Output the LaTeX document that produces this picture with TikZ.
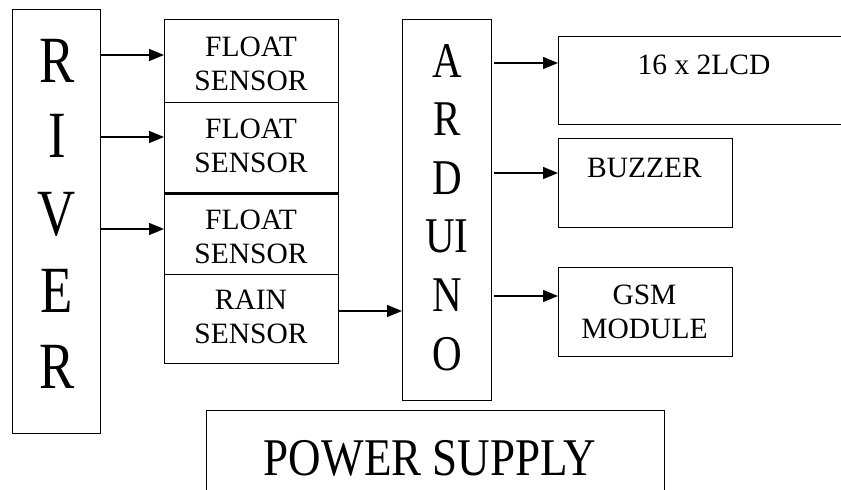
\documentclass[tikz,border=0pt]{standalone}
\usepackage{fontspec}
\setmainfont{Liberation Serif}
\usepackage{graphicx}
\usetikzlibrary{arrows.meta}
\begin{document}
\begin{tikzpicture}[x=1pt,y=-1pt,
  box/.style={draw, line width=1.4pt, inner sep=0pt, anchor=north west},
  small/.style={inner sep=0pt, align=center, font=\fontsize{29.5}{34}\selectfont},
  smallb/.style={inner sep=0pt, anchor=base, font=\fontsize{29.5}{34}\selectfont},
  bigr/.style={inner sep=0pt, anchor=base, font=\fontsize{66}{70}\selectfont},
  biga/.style={inner sep=0pt, anchor=base, font=\fontsize{50}{55}\selectfont},
  arr/.style={line width=1.4pt, -{Triangle[length=15pt,width=12pt]}}]
\clip (0,0) rectangle (841,490);
% boxes
\node[box, minimum width=88, minimum height=424] (river) at (12,9) {};
\node[box, minimum width=174, minimum height=83] (f1) at (164,19) {};
\node[box, minimum width=174, minimum height=90] (f2) at (164,102) {};
\node[box, minimum width=174, minimum height=82] (f3) at (164,192) {};
\node[box, minimum width=174, minimum height=89] (rain) at (164,274) {};
\draw[line width=3pt] (f2.south west) -- (f2.south east);
\node[box, minimum width=89, minimum height=381] (ard) at (402,19) {};
\node[box, minimum width=292, minimum height=88] (lcd) at (558,36) {};
\node[box, minimum width=174, minimum height=89] (buz) at (558,138) {};
\node[box, minimum width=174, minimum height=89] (gsm) at (558,267) {};
\node[box, minimum width=458, minimum height=95] (pow) at (206,410) {};
% RIVER letters
\node[bigr] (rv1) at (57,82) {\scalebox{0.8}[1]{R}};
\node[bigr] (rv2) at (57,157) {\scalebox{0.8}[1]{I}};
\node[bigr] (rv3) at (57,235) {\scalebox{0.8}[1]{V}};
\node[bigr] (rv4) at (57,312) {\scalebox{0.8}[1]{E}};
\node[bigr] (rv5) at (57,388) {\scalebox{0.8}[1]{R}};
% ARDUINO letters
\node[biga] (ad1) at (447,77) {\scalebox{0.82}[1]{A}};
\node[biga] (ad2) at (447,135.6) {\scalebox{0.82}[1]{R}};
\node[biga] (ad3) at (447,194.2) {\scalebox{0.82}[1]{D}};
\node[biga] (ad4) at (447,252.8) {\scalebox{0.82}[1]{UI}};
\node[biga] (ad5) at (447,311.4) {\scalebox{0.82}[1]{N}};
\node[biga] (ad6) at (447,370) {\scalebox{0.82}[1]{O}};
% small texts
\node[small] (f1t) at (251,64) {FLOAT\\SENSOR};
\node[small] (f2t) at (251,145.5) {FLOAT\\SENSOR};
\node[small] (f3t) at (251,237) {FLOAT\\SENSOR};
\node[small] (raint) at (251,316.5) {RAIN\\SENSOR};
\node[smallb] (lcdt) at (704,74) {16 x 2LCD};
\node[smallb] (buzt) at (644.5,177) {BUZZER};
\node[small] (gsmt) at (644.5,312) {GSM\\MODULE};
\node[inner sep=0pt, anchor=base, font=\fontsize{53}{57}\selectfont] (powt) at (430,475) {\scalebox{0.85}[1]{POWER SUPPLY}};
% arrow levels
\coordinate (y1) at (0,55);
\coordinate (y2) at (0,137);
\coordinate (y3) at (0,229);
\coordinate (y4) at (0,311);
\coordinate (y5) at (0,63);
\coordinate (y6) at (0,173);
\coordinate (y7) at (0,296);
\draw[arr] (river.east |- y1) -- (f1.west |- y1);
\draw[arr] (river.east |- y2) -- (f2.west |- y2);
\draw[arr] (river.east |- y3) -- (f3.west |- y3);
\draw[arr] (rain.east |- y4) -- (ard.west |- y4);
\draw[arr, shorten <=2pt] (ard.east |- y5) -- (lcd.west |- y5);
\draw[arr, shorten <=2pt] (ard.east |- y6) -- (buz.west |- y6);
\draw[arr, shorten <=2pt] (ard.east |- y7) -- (gsm.west |- y7);
\end{tikzpicture}
\end{document}
